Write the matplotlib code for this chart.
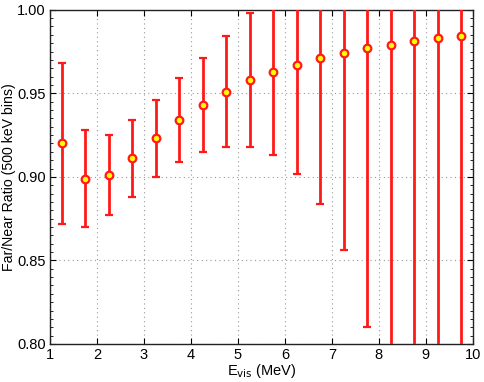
import matplotlib
matplotlib.use("Agg")
import matplotlib.pyplot as plt
import numpy as np
from matplotlib.ticker import MultipleLocator, FixedLocator

plt.rcParams["font.family"] = ["Liberation Sans", "DejaVu Sans"]

# ── data ──────────────────────────────────────────────────────────────────────
energy = [1.25, 1.75, 2.25, 2.75, 3.25, 3.75, 4.25, 4.75, 5.25,
          5.75, 6.25, 6.75, 7.25, 7.75, 8.25, 8.75, 9.25, 9.75]
ratio = [0.920, 0.899, 0.901, 0.911, 0.923, 0.934, 0.943, 0.951, 0.958,
         0.963, 0.967, 0.971, 0.974, 0.977, 0.979, 0.981, 0.983, 0.984]
err_low = [0.048, 0.029, 0.024, 0.023, 0.023, 0.025, 0.028, 0.033, 0.040,
           0.050, 0.065, 0.087, 0.118, 0.167, 0.22, 0.26, 0.30, 0.34]
err_high = [0.048, 0.029, 0.024, 0.023, 0.023, 0.025, 0.028, 0.033, 0.040,
            0.050, 0.065, 0.087, 0.118, 0.167, 0.22, 0.26, 0.30, 0.34]
xticks = [1, 2, 3, 4, 5, 6, 7, 8, 9, 10]
yticks = [0.80, 0.85, 0.90, 0.95, 1.00]

# ── plot ──────────────────────────────────────────────────────────────────────
fig = plt.figure(figsize=(4.85, 3.82), dpi=100)
ax = fig.add_axes([0.103, 0.0995, 0.872, 0.875])

ax.errorbar(energy, ratio, yerr=[err_low, err_high], fmt="o",
            color="#ff1a1a", ecolor="#ff1a1a", elinewidth=2.0,
            capsize=3.0, capthick=1.6,
            markerfacecolor="#ffff00", markeredgecolor="#ff1a1a",
            markersize=5.5, markeredgewidth=1.6, zorder=3)

ax.set_xlim(1, 10)
ax.set_ylim(0.80, 1.00)
ax.xaxis.set_major_locator(FixedLocator(xticks))
ax.yaxis.set_major_locator(FixedLocator(yticks))
ax.yaxis.set_minor_locator(MultipleLocator(0.005))
ax.set_yticklabels([f"{v:.2f}" for v in yticks])

ax.grid(True, which="major", linestyle=(0, (1, 3)), color="#999999", linewidth=0.8)
ax.tick_params(axis="both", which="major", direction="in", length=4,
               top=True, right=True, labelsize=10.5, pad=3)
ax.tick_params(axis="y", which="minor", direction="in", length=2.5,
               left=True, right=True)
ax.tick_params(axis="x", which="minor", bottom=False, top=False)
for sp in ax.spines.values():
    sp.set_linewidth(1.0)
    sp.set_color("#222222")

ax.set_xlabel(r"E$_{\mathrm{vis}}$ (MeV)", fontsize=10.5, labelpad=0)
ax.set_ylabel("Far/Near Ratio (500 keV bins)", fontsize=10.2, labelpad=1)

fig.savefig("out.png", dpi=100)
